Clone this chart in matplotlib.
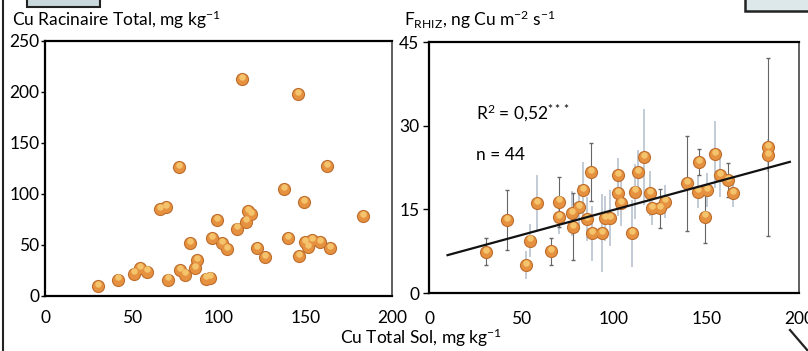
from matplotlib import pyplot as plt
from matplotlib import transforms
from matplotlib.patches import Rectangle
from matplotlib.lines import Line2D

# left panel: Cu in roots vs Cu in soil
root_soil_cu = [30.5, 42, 51.5, 55, 58.6, 66, 70, 70.7, 78, 80.7, 83.6, 87.4, 86.5,
                93, 95, 96, 99, 102, 104.7, 110.5, 116, 117, 119, 122, 127, 138,
                140, 149, 146.6, 150, 153.7, 151.8, 158.5, 164, 183.5, 113.4,
                145.6, 77.2, 162.4]
root_cu = [10, 16, 22, 27, 24, 85, 87, 16, 25, 21, 52, 35, 27,
           17, 18, 57, 74.5, 52, 46, 66, 73, 83, 80, 47, 38.5, 105,
           57, 92, 39.5, 53, 55, 48, 53, 47, 78, 212.7,
           198, 126, 127]

# right panel: rhizosphere flux, light error bars
flux_soil_cu = [52.4, 54.6, 58.2, 70, 77, 81, 83.4, 85.5, 88, 93.4, 95, 98,
                102.3, 102.3, 104, 109.6, 111.4, 113, 115.9, 119.5, 120.4,
                127.6, 154.6, 145.6, 150.1, 157.3, 164.5, 183.4]
flux = [5.0, 9.4, 16.1, 13.6, 14.3, 15.4, 18.5, 13.3, 10.7, 10.7, 13.4, 13.4,
        21.2, 17.9, 16.1, 10.7, 18.2, 21.7, 24.4, 17.9, 15.2,
        16.4, 24.9, 18.2, 18.5, 21.2, 17.9, 24.7]
flux_err = [2.5, 3, 5, 3, 4, 4, 5, 4, 5, 7, 4, 5,
            3, 4, 4, 6, 5, 4, 8.6, 4, 3,
            3, 6, 3, 3, 4, 2.5, 3]

# right panel: points with dark error bars
flux_soil_cu_b = [30.8, 42.3, 66, 70.5, 78, 87.4, 124.9, 139.6, 146.1, 149.2, 161.8, 183.4]
flux_b = [7.4, 13.1, 7.5, 16.4, 11.9, 21.7, 15.2, 19.7, 23.5, 13.7, 20.3, 26.2]
flux_err_b = [2.4, 5.4, 2.4, 4.5, 6, 5.2, 3.5, 8.5, 2.4, 4.8, 3, 16]

fit_slope = 0.0904
fit_intercept = 5.9
fit_range = [10, 195]

plt.rcParams['font.family'] = ['Lato', 'DejaVu Sans']
plt.rcParams['mathtext.fontset'] = 'custom'
plt.rcParams['mathtext.rm'] = 'Lato'
plt.rcParams['mathtext.it'] = 'Lato:italic'


def spheres(ax, x, y):
    # shaded "ball" markers: dark rim, orange body, pale highlight on top
    ax.scatter(x, y, s=90, color="#bd6d2c", zorder=4, linewidths=0)
    ax.scatter(x, y, s=62, color="#e6913f", zorder=5, linewidths=0)
    up = transforms.offset_copy(ax.transData, fig=ax.figure, x=0, y=2.2, units='dots')
    ax.scatter(x, y, s=22, color="#f4c46c", zorder=6, linewidths=0, transform=up)


fig = plt.figure(figsize=(8.08, 3.51), dpi=100)
ax1 = fig.add_axes([0.0557, 0.1567, 0.4295, 0.7265])
ax2 = fig.add_axes([0.531, 0.165, 0.458, 0.715])

# left panel
spheres(ax1, root_soil_cu, root_cu)
ax1.set_xlim(0, 200)
ax1.set_ylim(0, 250)
ax1.set_xticks([0, 50, 100, 150, 200])
ax1.set_yticks([0, 50, 100, 150, 200, 250])
ax1.tick_params(axis='y', direction='out', length=3, width=1, pad=1, labelsize=12.5)
ax1.tick_params(axis='x', length=0, pad=10, labelsize=12.5)

# right panel
ax2.errorbar(flux_soil_cu, flux, yerr=flux_err, fmt='none', ecolor="#b9c3cf",
             elinewidth=1.2, capsize=0, zorder=2)
ax2.errorbar(flux_soil_cu_b, flux_b, yerr=flux_err_b, fmt='none', ecolor="#666666",
             elinewidth=0.8, capsize=1.2, zorder=3)
spheres(ax2, flux_soil_cu + flux_soil_cu_b, flux + flux_b)
ax2.plot(fit_range, [fit_intercept + fit_slope * v for v in fit_range],
         color="#111111", lw=1.6, zorder=7)
ax2.set_xlim(0, 200)
ax2.set_ylim(0, 45)
ax2.set_xticks([0, 50, 100, 150, 200])
ax2.set_yticks([0, 15, 30, 45])
ax2.tick_params(axis='y', direction='out', length=4, width=1, pad=3, labelsize=12.5)
ax2.tick_params(axis='x', length=0, pad=13, labelsize=12.5)
ax2.text(0.127, 0.717, "R$^2$ = 0,52$^{***}$", transform=ax2.transAxes,
         fontsize=12.5, va='center', ha='left')
ax2.text(0.127, 0.55, "n = 44", transform=ax2.transAxes,
         fontsize=12.5, va='center', ha='left')

for ax in (ax1, ax2):
    for side in ('left', 'bottom', 'top'):
        ax.spines[side].set_linewidth(1.6)
    ax.spines['right'].set_linewidth(1.2)
    ax.spines['right'].set_color("#444444")

# axis titles
fig.text(12 / 808, 1 - 20 / 351, "Cu Racinaire Total, mg kg$^{-1}$",
         fontsize=12.5, va='center', ha='left')
fig.text(404 / 808, 1 - 20 / 351, "F$_{\\mathrm{RHIZ}}$, ng Cu m$^{-2}$ s$^{-1}$",
         fontsize=12.5, va='center', ha='left')
fig.text(421 / 808, 1 - 338 / 351, "Cu Total Sol, mg kg$^{-1}$",
         fontsize=12.5, va='center', ha='center')

# scan edges: left border, cropped boxes, diagonal stroke
fig.add_artist(Line2D([3 / 808, 3 / 808], [0, 1], color="#222222", lw=1.5))
fig.add_artist(Rectangle((27 / 808, 1 - 7 / 351), 73 / 808, 0.05, facecolor="#c9d8dc",
                         edgecolor="#222222", lw=1.5))
fig.add_artist(Rectangle((745 / 808, 1 - 11 / 351), 0.1, 0.05, facecolor="#dde8ea",
                         edgecolor="#222222", lw=1.8))
fig.add_artist(Line2D([790 / 808, 808 / 808], [1 - 330 / 351, 1 - 351 / 351],
                      color="#222222", lw=1.6))

plt.savefig("out.png", dpi=100)
